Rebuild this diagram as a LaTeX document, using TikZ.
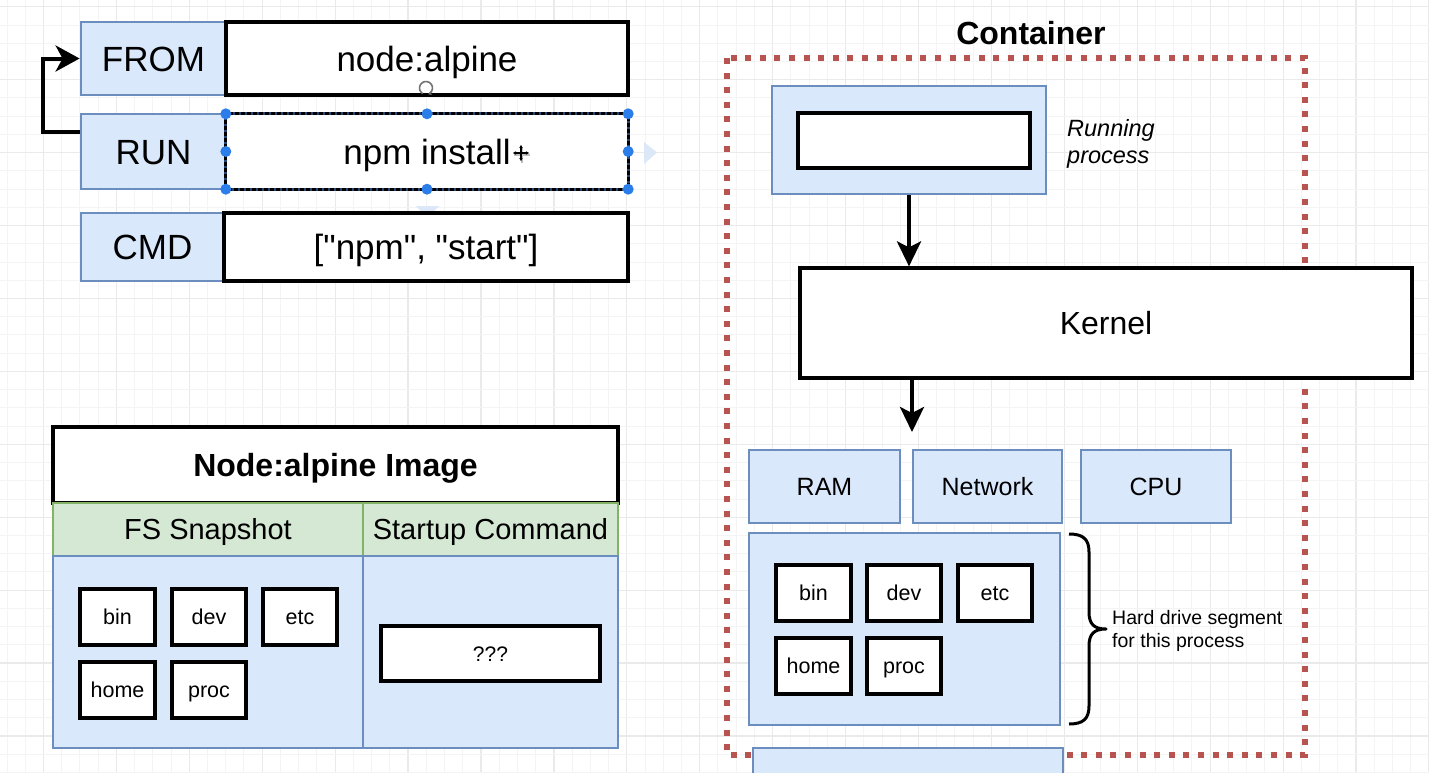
\documentclass[tikz,border=0pt]{standalone}
\usepackage{fontspec}
\setmainfont{Liberation Sans}[Ligatures=TeXOff]
\usetikzlibrary{arrows.meta,calc}
\definecolor{bfill}{HTML}{DAE8FC}
\definecolor{bline}{HTML}{6C8EBF}
\definecolor{gfill}{HTML}{D5E8D4}
\definecolor{gline}{HTML}{82B366}
\definecolor{rdot}{HTML}{B85450}
\definecolor{gridminor}{HTML}{F4F4F4}
\definecolor{gridmajor}{HTML}{EAEAEA}
\definecolor{handle}{HTML}{2B7DE9}
\definecolor{faint}{HTML}{DCE7F8}
\begin{document}
\begin{tikzpicture}[x=1pt,y=-1pt,
  bluebox/.style={draw=bline, fill=bfill, line width=2.8pt, inner sep=0pt},
  blackbox/.style={draw=black, fill=white, line width=3.2pt, inner sep=0pt},
  greenbox/.style={draw=gline, fill=gfill, line width=2.8pt, inner sep=0pt},
  bigtxt/.style={font=\fontsize{35}{42}\selectfont, text height=25pt, text depth=0pt},
  fstxt/.style={font=\fontsize{29}{35}\selectfont, text height=20.8pt, text depth=0pt},
  hwtxt/.style={font=\fontsize{25}{30}\selectfont, text height=18pt, text depth=0pt},
  dirtxt/.style={font=\fontsize{21.5}{26}\selectfont, text height=15.4pt, text depth=0pt},
  arrowline/.style={line width=4pt, -{Stealth[length=25pt, width=24pt, inset=6pt]}}
]
\useasboundingbox (0,0) rectangle (1429,772);
\fill[white] (0,0) rectangle (1429,772);
% grid
\foreach \i in {0,...,78} {
  \pgfmathsetmacro{\gx}{7+18.23*\i}
  \pgfmathtruncatemacro{\m}{mod(\i,4)}
  \ifnum\m=2 \draw[gridmajor, line width=1.2pt] (\gx,0) -- (\gx,772);
  \else \draw[gridminor, line width=1pt] (\gx,0) -- (\gx,772); \fi
}
\foreach \j in {0,...,42} {
  \pgfmathsetmacro{\gy}{6.8+18.23*\j}
  \pgfmathtruncatemacro{\m}{mod(\j,4)}
  \ifnum\m=0 \draw[gridmajor, line width=1.2pt] (0,\gy) -- (1429,\gy);
  \else \draw[gridminor, line width=1pt] (0,\gy) -- (1429,\gy); \fi
}

% ---------- Dockerfile ----------
\fill[faint] (644,142) -- (657,152.5) -- (644,164) -- cycle;
\fill[faint] (416,206) -- (439,206) -- (427.5,218) -- cycle;

\node[bluebox, bigtxt, minimum width=145pt, minimum height=73pt] (fromL) at (153.5,58.5) {FROM};
\node[blackbox, bigtxt, minimum width=402pt, minimum height=73pt] (fromV) at (427,58.5) {node:alpine};
\node[bluebox, bigtxt, minimum width=145pt, minimum height=75pt] (runL) at (153.5,151.5) {RUN};
\node[draw=none, fill=white, bigtxt, minimum width=402pt, minimum height=75pt, inner sep=0pt] (runV) at (427,151.5) {npm install};
\draw[draw={rgb,255:red,40;green,70;blue,120}, line width=3pt] (runV.north west) rectangle (runV.south east);
\draw[black, line width=3pt, dash pattern=on 4pt off 2pt] (runV.north west) rectangle (runV.south east);
\node[bluebox, bigtxt, minimum width=143pt, minimum height=68pt] (cmdL) at (152.5,247) {CMD};
\node[blackbox, bigtxt, minimum width=404pt, minimum height=68pt] (cmdV) at (426,247) {["npm", "start"]};

\foreach \p in {runV.north west, runV.north, runV.north east, runV.west, runV.east, runV.south west, runV.south, runV.south east}
  \fill[handle] (\p) circle (5.5pt);

% rotate icon and move cursor
\draw[black!55, line width=1.6pt, -{Stealth[length=3.5pt, width=4.5pt]}] (426,88) ++(120:6.5) arc[start angle=120, end angle=430, radius=6.5];
\draw[black!25, line width=2.4pt] (514,155) -- (530,155) (522,147) -- (522,163);
\draw[black, line width=1.2pt, {Stealth[length=3pt,width=3.5pt]}-{Stealth[length=3pt,width=3.5pt]}] (513,153) -- (529,153);
\draw[black, line width=1.2pt, {Stealth[length=3pt,width=3.5pt]}-{Stealth[length=3pt,width=3.5pt]}] (521,145) -- (521,161);

\draw[line width=4pt, -{Stealth[length=24pt, width=26pt, inset=7pt]}]
  ($(runL.north west)!0.25!(runL.south west)$) -- ++(-37,0) |- (fromL.west);

% ---------- Image table ----------
\node[blackbox, font=\bfseries\fontsize{32}{38}\selectfont, text height=23pt, text depth=0pt, minimum width=565pt, minimum height=76pt, line width=3.6pt] (title) at (335.5,465) {Node:alpine Image};
\node[greenbox, fstxt, minimum width=310pt, minimum height=53pt] (fs) at (208,529.5) {FS Snapshot};
\node[greenbox, fstxt, minimum width=255pt, minimum height=53pt] (sc) at (490.5,529.5) {Startup Command};
\node[bluebox, minimum width=310pt, minimum height=192pt] (fsbody) at (208,652) {};
\node[bluebox, minimum width=255pt, minimum height=192pt] (scbody) at (490.5,652) {};
\node[blackbox, dirtxt, minimum width=75pt, minimum height=56pt] (ibin) at (117.5,617) {bin};
\node[blackbox, dirtxt, minimum width=74pt, minimum height=56pt] (idev) at (209,617) {dev};
\node[blackbox, dirtxt, minimum width=74pt, minimum height=56pt] (ietc) at (300,617) {etc};
\node[blackbox, dirtxt, minimum width=75pt, minimum height=56pt] (ihome) at (117.5,690) {home};
\node[blackbox, dirtxt, minimum width=74pt, minimum height=56pt] (iproc) at (209,690) {proc};
\node[blackbox, font=\fontsize{21}{25}\selectfont, text height=15pt, text depth=0pt, minimum width=219pt, minimum height=55pt] (cmdq) at (490.5,653.5) {???};

% ---------- Container ----------
\node[font=\bfseries\fontsize{32}{38}\selectfont, inner sep=0pt] (ctitle) at (1031,33) {Container};
\draw[rdot, line width=6pt, dash pattern=on 6pt off 8.6pt] (727,58) rectangle (1305,755);

\node[bluebox, minimum width=274pt, minimum height=108pt] (run) at (909,140) {};
\node[blackbox, minimum width=232pt, minimum height=55pt] (proc) at (914,140.5) {};
\node[anchor=west, align=left, inner sep=0pt, font=\itshape\fontsize{23.5}{27}\selectfont] (rptext) at (1067,143.5) {Running\\process};

\node[blackbox, font=\fontsize{32}{38}\selectfont, text height=23pt, text depth=0pt, minimum width=612pt, minimum height=110pt] (kernel) at (1106,323) {Kernel};

\node[bluebox, hwtxt, minimum width=151pt, minimum height=73pt] (ram) at (824.5,486.5) {RAM};
\node[bluebox, hwtxt, minimum width=149pt, minimum height=73pt] (net) at (987.5,486.5) {Network};
\node[bluebox, hwtxt, minimum width=150pt, minimum height=73pt] (cpu) at (1156,486.5) {CPU};

\node[bluebox, minimum width=311pt, minimum height=192pt] (hd) at (904.5,629) {};
\node[blackbox, dirtxt, minimum width=75pt, minimum height=56pt] (cbin) at (813.5,593) {bin};
\node[blackbox, dirtxt, minimum width=74pt, minimum height=56pt] (cdev) at (904,593) {dev};
\node[blackbox, dirtxt, minimum width=74pt, minimum height=56pt] (cetc) at (995,593) {etc};
\node[blackbox, dirtxt, minimum width=75pt, minimum height=56pt] (chome) at (813.5,666) {home};
\node[blackbox, dirtxt, minimum width=74pt, minimum height=56pt] (cproc) at (904,666) {proc};

\node[bluebox, minimum width=310pt, minimum height=60pt] (next) at (908,778) {};

% brace
\draw[line width=3pt, line join=round]
  (1069,534) .. controls (1083,534) and (1089,539) .. (1089,552) -- (1089,612)
  .. controls (1089,624) and (1094,629) .. (1106,629)
  .. controls (1094,629) and (1089,634) .. (1089,646) -- (1089,706)
  .. controls (1089,719) and (1083,724) .. (1069,724);
\node[anchor=west, align=left, inner sep=0pt, font=\fontsize{19.5}{22.5}\selectfont] (hdtext) at (1112,631) {Hard drive segment\\for this process};

% arrows
\coordinate (hwtop) at (912,432);
\draw[arrowline] (run.south) -- (run.south |- kernel.north);
\draw[arrowline] (hwtop |- kernel.south) -- (hwtop);
\end{tikzpicture}
\end{document}
